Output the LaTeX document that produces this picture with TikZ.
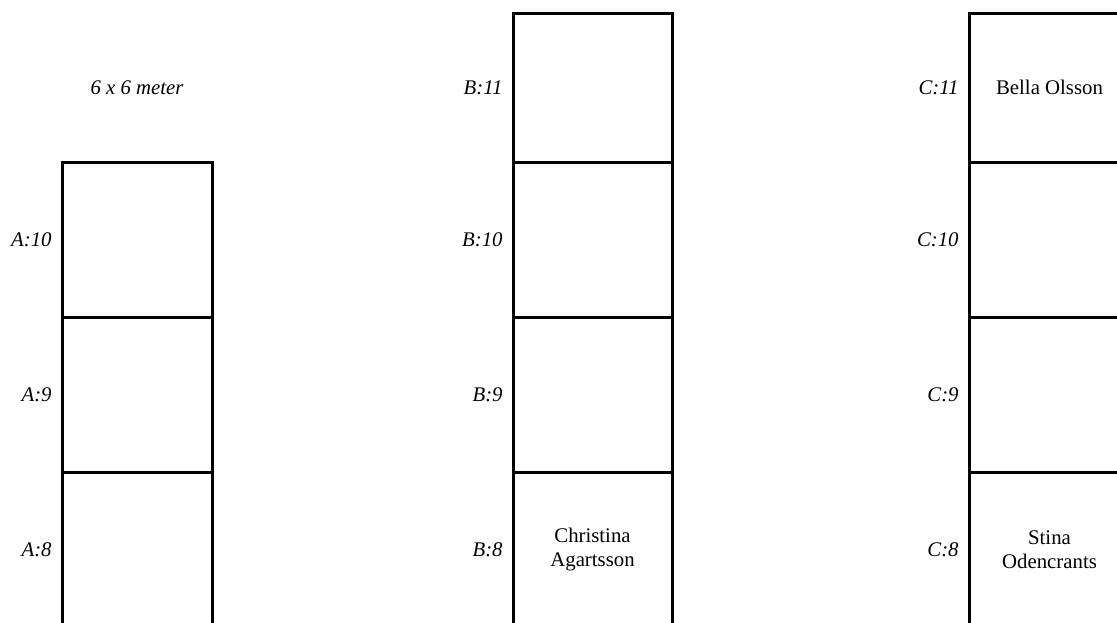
\documentclass[tikz,border=0pt]{standalone}
\usepackage{fontspec}
\setmainfont{Liberation Serif}
\usetikzlibrary{positioning}
\begin{document}
\begin{tikzpicture}[x=0.5pt, y=-0.5pt,
		plot/.style={draw, line width=1.5pt, inner sep=0pt, outer sep=0pt, minimum height=77.5pt, align=center, font=\fontsize{10.4}{12}\selectfont},
		plotlabel/.style={inner sep=0pt, font=\fontsize{10.4}{12}\selectfont\itshape}]
		\useasboundingbox (0,0) rectangle (1117,622);
		\clip (0,0) rectangle (1117,622);

		\node[plotlabel] (size) at (137,87.5) {6 x 6 meter};

		% row A
		\node[plot, minimum width=75pt] (a10) at (137,239.5) {};
		\node[plot, minimum width=75pt] (a9) at (137,394.5) {};
		\node[plot, minimum width=75pt] (a8) at (137,549.5) {};

		% row B
		\node[plot, minimum width=79.5pt, minimum height=74.5pt] (b11) at (592.5,87.5) {};
		\node[plot, minimum width=79.5pt] (b10) at (592.5,239.5) {};
		\node[plot, minimum width=79.5pt] (b9) at (592.5,394.5) {};
		\node[plot, minimum width=79.5pt] (b8) at (592.5,549.5) {Christina\\Agartsson};

		% row C
		\node[plot, minimum width=80.5pt, minimum height=74.5pt] (c11) at (1049.5,87.5) {Bella Olsson};
		\node[plot, minimum width=80.5pt] (c10) at (1049.5,239.5) {};
		\node[plot, minimum width=80.5pt] (c9) at (1049.5,394.5) {};
		\node[plot, minimum width=80.5pt] (c8) at (1049.5,549.5) {Stina\\Odencrants};

		\node[plotlabel, left=5pt of a10] (a10label) {A:10};
		\node[plotlabel, left=5pt of a9] (a9label) {A:9};
		\node[plotlabel, left=5pt of a8] (a8label) {A:8};
		\node[plotlabel, left=5pt of b11] (b11label) {B:11};
		\node[plotlabel, left=5pt of b10] (b10label) {B:10};
		\node[plotlabel, left=5pt of b9] (b9label) {B:9};
		\node[plotlabel, left=5pt of b8] (b8label) {B:8};
		\node[plotlabel, left=5pt of c11] (c11label) {C:11};
		\node[plotlabel, left=5pt of c10] (c10label) {C:10};
		\node[plotlabel, left=5pt of c9] (c9label) {C:9};
		\node[plotlabel, left=5pt of c8] (c8label) {C:8};
	\end{tikzpicture}
\end{document}
